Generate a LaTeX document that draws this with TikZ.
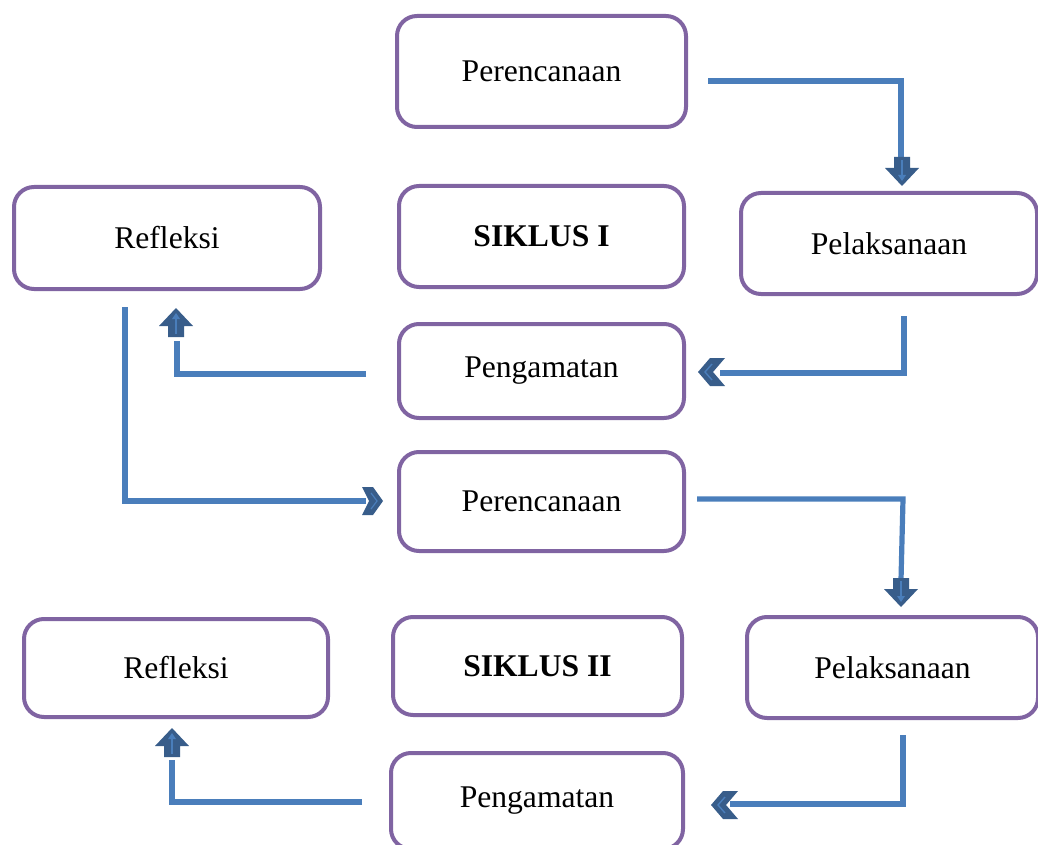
\documentclass[tikz,border=0pt]{standalone}
\usepackage{fontspec}
\setmainfont{Liberation Serif}
\definecolor{boxline}{HTML}{8064A2}
\definecolor{flowline}{HTML}{4A7EBB}
\definecolor{headfill}{HTML}{385D8A}
\tikzset{stage/.style={draw=boxline, line width=2pt, rounded corners=10pt,
        inner sep=0pt, align=center, font=\fontsize{15.8}{19}\selectfont},
    flow/.style={draw=flowline, line width=2.6pt},
    blockhead/.pic={
        \fill[headfill] (0,0) -- (-17,-18) -- (-8,-18) -- (-8,-29)
            -- (8,-29) -- (8,-18) -- (17,-18) -- cycle;
        \draw[flowline, line width=1.3pt] (0,-26) -- (0,-9);
        \fill[flowline] (0,-5) -- (-4,-11) -- (4,-11) -- cycle;
    },
    chevhead/.pic={
        \fill[headfill] (0,0) -- (-10,-14) -- (-21,-14) -- (-14,0)
            -- (-21,14) -- (-10,14) -- cycle;
        \draw[flowline, line width=0.6pt] (-12,-8) -- (-6,0) -- (-12,8);
    },
    chevwide/.pic={
        \fill[headfill] (0,0) -- (-12,-14) -- (-27,-14) -- (-15,0)
            -- (-27,14) -- (-12,14) -- cycle;
        \draw[flowline, line width=0.7pt] (-14,-8) -- (-7,0) -- (-14,8);
    },
    }

\begin{document}
\begin{tikzpicture}[x=0.5pt, y=-0.5pt]
\clip (0,0) rectangle (1038,845);
% siklus I
\node[stage, minimum width=144.5pt, minimum height=55.5pt] (plan1) at (541.5,71.5) {Perencanaan};
\node[stage, minimum width=153pt, minimum height=51pt] (refl1) at (167,238) {Refleksi};
\node[stage, minimum width=142.5pt, minimum height=50.5pt, font=\fontsize{15.8}{19}\selectfont\bfseries] (cyc1) at (541.5,236.5) {SIKLUS I};
\node[stage, minimum width=148pt, minimum height=50.5pt] (act1) at (889,243.5) {Pelaksanaan};
\node[stage, minimum width=142.5pt, minimum height=47pt] (obs1) at (541.5,371) {Pengamatan};
% siklus II
\node[stage, minimum width=142.5pt, minimum height=49.5pt] (plan2) at (541.5,501.5) {Perencanaan};
\node[stage, minimum width=152pt, minimum height=49pt] (refl2) at (176,668) {Refleksi};
\node[stage, minimum width=144.5pt, minimum height=49pt, font=\fontsize{15.8}{19}\selectfont\bfseries] (cyc2) at (537.5,666) {SIKLUS II};
\node[stage, minimum width=145.5pt, minimum height=50.5pt] (act2) at (892.5,667.5) {Pelaksanaan};
\node[stage, minimum width=146pt, minimum height=48pt] (obs2) at (537,801) {Pengamatan};

% connector ends
\coordinate (a0) at (708,81);  \coordinate (a1) at (901,81);  \coordinate (a2) at (901,160);
\coordinate (b0) at (904,316); \coordinate (b1) at (904,373); \coordinate (b2) at (720,373);
\coordinate (c0) at (366,374); \coordinate (c1) at (177,374); \coordinate (c2) at (177,341);
\coordinate (d0) at (125,307); \coordinate (d1) at (125,501); \coordinate (d2) at (366,501);
\coordinate (e0) at (697,499); \coordinate (e1) at (903,499); \coordinate (e2) at (901,580);
\coordinate (f0) at (903,735); \coordinate (f1) at (903,804); \coordinate (f2) at (730,804);
\coordinate (g0) at (362,802); \coordinate (g1) at (172,802); \coordinate (g2) at (172,760);

\draw[flow] (a0) -- (a1) -- (a2);
\draw[flow] (b0) -- (b1) -- (b2);
\draw[flow] (c0) -- (c1) -- (c2);
\draw[flow] (d0) -- (d1) -- (d2);
\draw[flow] (e0) -- (e1) -- (e2);
\draw[flow] (f0) -- (f1) -- (f2);
\draw[flow] (g0) -- (g1) -- (g2);

% heads
\pic at (902,186) {blockhead};
\pic[rotate=180] at (698,372) {chevwide};
\pic[rotate=180] at (176,308) {blockhead};
\pic at (383,501) {chevhead};
\pic at (901,607) {blockhead};
\pic[rotate=180] at (711,805) {chevwide};
\pic[rotate=180] at (172,728) {blockhead};
\end{tikzpicture}
\end{document}
